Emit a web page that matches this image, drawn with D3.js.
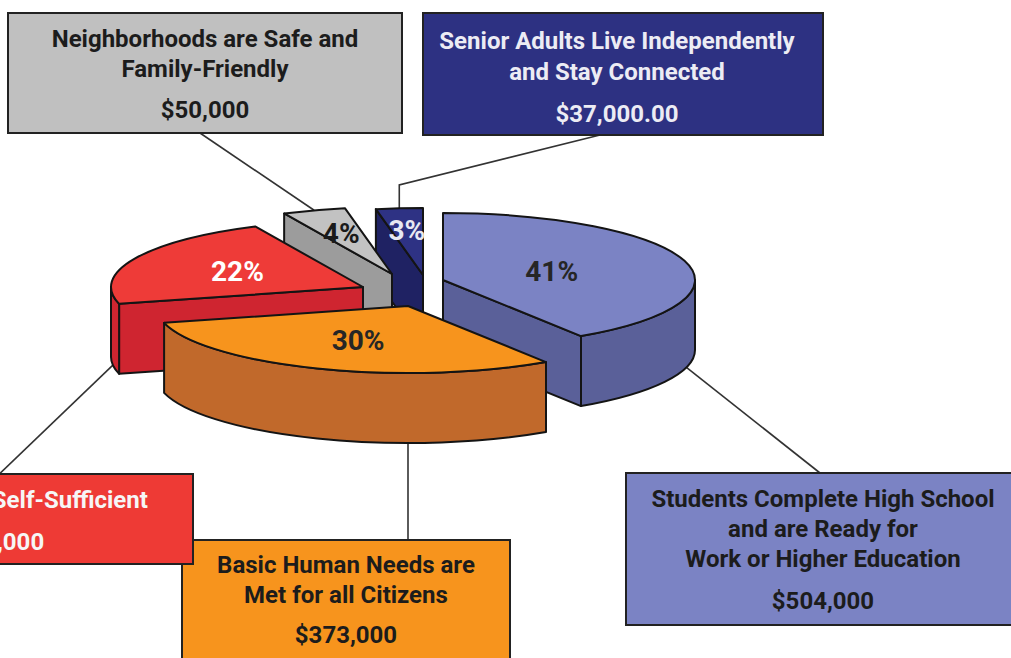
<!DOCTYPE html>
<html>
<head>
<meta charset="utf-8">
<script src="https://cdn.jsdelivr.net/npm/d3@7"></script>
<style>
  body { margin: 0; background: #fff; }
  svg { display: block; }
  text { font-family: Roboto, "Open Sans", sans-serif; font-weight: 700; }
</style>
</head>
<body>
<svg width="1011" height="658"></svg>
<script>
// slices, clockwise from 12 o'clock
const goals = [
    ["Students Complete High School", "and are Ready for", "Work or Higher Education"],
    ["Basic Human Needs are", "Met for all Citizens"],
    ["Residents are Self-Sufficient"],
    ["Neighborhoods are Safe and", "Family-Friendly"],
    ["Senior Adults Live Independently", "and Stay Connected"]
];
const amounts = [504000, 373000, 272000, 50000, 37000];
const amountLabels = ["$504,000", "$373,000", "$272,000", "$50,000", "$37,000.00"];

const topColors = ["#7b83c4", "#f7941d", "#ee3b38", "#c2c2c2", "#2e3284"];
const sideColors = ["#5a6099", "#c1692b", "#cf2530", "#9c9c9c", "#1f2263"];
const boxColors = ["#7b83c4", "#f7941d", "#ee3a35", "#c0c0c0", "#2d3182"];
const textColors = ["#1c1c1c", "#1c1c1c", "#f6f6f6", "#1c1c1c", "#ececf4"];
const pctColors = ["#262626", "#262626", "#ffffff", "#1a1a1a", "#e8e8f2"];

// pie geometry
const cx = 420, cy = 278, rx = 252, ry = 67, depth = 70;
// exploded offset of each slice
const shift = [[23, 2], [-12, 28], [-57, 9], [-28, -4], [3, -3]];
const labelPos = [0.45, 0.55, 0.55, 0.65, 0.68];
const drawOrder = [4, 3, 0, 2, 1];

// callout boxes
const boxes = [
    { x: 626, y: 473, w: 400, h: 152, tx: 823, base: [507, 537, 567], amt: 609 },
    { x: 182, y: 540, w: 328, h: 130, tx: 346, base: [573, 603], amt: 643 },
    { x: -210, y: 474, w: 403, h: 90, tx: -7, base: [508], amt: 550 },
    { x: 8, y: 13, w: 394, h: 120, tx: 205, base: [47, 77], amt: 118 },
    { x: 423, y: 13, w: 400, h: 122, tx: 617, base: [49, 80], amt: 122 }
];
// leader lines: point on slice (deg, top/bottom) then points toward box
const leaders = [
    { deg: 105, z: depth, pts: [[820, 473]] },
    { deg: 180, z: depth, pts: [["x", 540]] },
    { deg: 263, z: depth, pts: [[-10, 483]] },
    { deg: 342, z: 0, pts: [[200, 133]] },
    { deg: 354.6, z: 0, pts: [["x", 185], [600, 135]] }
];

const svg = d3.select("svg");
const rad = d => d * Math.PI / 180;

function apex(i, z) {
    return [cx + shift[i][0], cy + shift[i][1] + z];
}
function pt(i, a, z) {
    return [cx + shift[i][0] + rx * Math.sin(a), cy + shift[i][1] - ry * Math.cos(a) + z];
}

const slices = d3.pie().sort(null).value(d => d)(amounts);
const total = d3.sum(amounts);

// leader lines (behind everything)
const lineGen = d3.line();
leaders.forEach((l, i) => {
    const p = pt(i, rad(l.deg), l.z);
    const pts = [p].concat(l.pts.map(q => [q[0] === "x" ? p[0] : q[0], q[1]]));
    svg.append("path")
        .attr("d", lineGen(pts))
        .attr("fill", "none")
        .attr("stroke", "#333")
        .attr("stroke-width", 1.6);
});

function topPath(i, s) {
    const c = apex(i, 0), p0 = pt(i, s.startAngle, 0), p1 = pt(i, s.endAngle, 0);
    const large = s.endAngle - s.startAngle > Math.PI ? 1 : 0;
    return `M${c}L${p0}A${rx},${ry} 0 ${large} 1 ${p1}Z`;
}
function wallPath(i, s) {
    const b0 = Math.max(s.startAngle, Math.PI / 2), b1 = Math.min(s.endAngle, 1.5 * Math.PI);
    if (b1 <= b0) return null;
    const p0 = pt(i, b0, 0), p1 = pt(i, b1, 0), q1 = pt(i, b1, depth), q0 = pt(i, b0, depth);
    return `M${p0}A${rx},${ry} 0 0 1 ${p1}L${q1}A${rx},${ry} 0 0 0 ${q0}Z`;
}
function facePath(i, a) {
    return `M${apex(i, 0)}L${pt(i, a, 0)}L${pt(i, a, depth)}L${apex(i, depth)}Z`;
}

const pie = svg.append("g");
drawOrder.forEach(i => {
    const s = slices[i];
    const g = pie.append("g")
        .attr("stroke", "#141414")
        .attr("stroke-width", 2)
        .attr("stroke-linejoin", "round");
    const faces = [];
    if (Math.sin(s.startAngle) < -1e-6) faces.push(facePath(i, s.startAngle));
    if (Math.sin(s.endAngle) > 1e-6) faces.push(facePath(i, s.endAngle));
    const w = wallPath(i, s);
    if (w) faces.push(w);
    faces.forEach(d => g.append("path").attr("d", d).attr("fill", sideColors[i]));
    g.append("path").attr("d", topPath(i, s)).attr("fill", topColors[i]);

    const mid = (s.startAngle + s.endAngle) / 2;
    const c = apex(i, 0);
    g.append("text")
        .attr("x", c[0] + labelPos[i] * rx * Math.sin(mid))
        .attr("y", c[1] - labelPos[i] * ry * Math.cos(mid))
        .attr("dy", "0.36em")
        .attr("text-anchor", "middle")
        .attr("stroke", "none")
        .attr("fill", pctColors[i])
        .style("font-size", "28px")
        .text(d3.format(".0%")(amounts[i] / total));
});

// callout boxes
boxes.forEach((b, i) => {
    const g = svg.append("g");
    g.append("rect")
        .attr("x", b.x).attr("y", b.y)
        .attr("width", b.w).attr("height", b.h)
        .attr("fill", boxColors[i])
        .attr("stroke", "#222")
        .attr("stroke-width", 2);
    goals[i].forEach((line, k) => {
        g.append("text")
            .attr("x", b.tx).attr("y", b.base[k])
            .attr("text-anchor", "middle")
            .attr("fill", textColors[i])
            .style("font-size", "24px")
            .text(line);
    });
    g.append("text")
        .attr("x", b.tx).attr("y", b.amt)
        .attr("text-anchor", "middle")
        .attr("fill", textColors[i])
        .style("font-size", "24px")
        .text(amountLabels[i]);
});
</script>
</body>
</html>
